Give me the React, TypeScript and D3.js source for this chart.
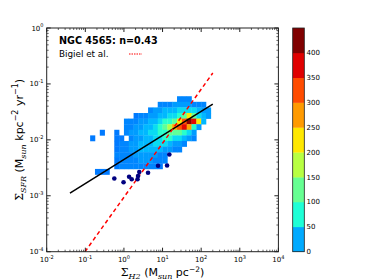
import React from "react";
import * as d3 from "d3";

const W = 374;
const H = 280;

// log10 bin edges of the 2D histogram
const binX0 = -0.875;
const binDX = 0.125;
const binY0 = -1.22;
const binDY = 0.1;

// histogram cells, one string per row from the top; "." = empty
const heatRows = [
  "..................222....",
  "..............2223333222.",
  "............2334445555433",
  ".........1223344556797543",
  ".......222334456679bdc94.",
  ".......2233445678abca63..",
  "..1..1.233445566777653...",
  "1....11.23344556655432...",
  ".....122334445554332.....",
  ".....12233444443322......",
  ".....22223333322.........",
  ".....12222333222.........",
  ".....1222222221..........",
  ".111.....................",
];
const countByCode: Record<string, number> = {
  "1": 3, "2": 10, "3": 22, "4": 38, "5": 58, "6": 82, "7": 120,
  "8": 170, "9": 220, a: 270, b: 320, c: 370, d: 420,
};

// radial points
const ptX = [0.564, 0.977, 1.36, 1.59, 2.25, 2.32, 2.5, 4.21, 7.64, 13.1, 15.0];
const ptY = [0.00204, 0.00174, 0.00219, 0.00198, 0.00198, 0.00226, 0.00266, 0.00258, 0.00345, 0.00348, 0.00547];

// fitted relation (n = 0.43) and Bigiel et al.
const fitX = [0.04, 200];
const fitY = [0.00112, 0.0437];
const bigielX = [0.098, 200];
const bigielY = [0.0001, 0.157];

// colour bar
const cbLevels = [0, 50, 100, 150, 200, 250, 300, 350, 400, 450];
const cbColors = ["#00aaff", "#1effd6", "#66ff92", "#b8ff42", "#ffe800", "#ff9a00", "#ff4c00", "#e00000", "#800000"];
const cbTicks = [0, 50, 100, 150, 200, 250, 300, 350, 400];

const heatStops = [0, 25, 50, 75, 125, 175, 225, 275, 325, 375, 425];
const heatColors = ["#0074ff", "#00a2ff", "#00ccff", "#1effd6", "#66ff92", "#b8ff42", "#ffe800", "#ff9a00", "#ff4c00", "#e00000", "#800000"];

const xDecades = [-2, -1, 0, 1, 2, 3, 4];
const yDecades = [-4, -3, -2, -1, 0];

export default function App() {
  const x = d3.scaleLog().domain([1e-2, 1e4]).range([46.7, 278.4]);
  const y = d3.scaleLog().domain([1e-4, 1]).range([251.7, 28]);
  const cb = d3.scaleLinear().domain([0, 450]).range([251.7, 28]);
  const heat = d3.scaleLinear<string>().domain(heatStops).range(heatColors).clamp(true);

  const [x0, x1] = x.range();
  const [y0, y1] = y.range();

  const cells: { c: number; r: number; v: number }[] = [];
  heatRows.forEach((row, r) =>
    row.split("").forEach((ch, c) => {
      if (ch !== ".") cells.push({ c, r, v: countByCode[ch] });
    })
  );

  const minorX: number[] = [];
  xDecades.slice(0, -1).forEach((d) => {
    for (let k = 2; k < 10; k++) minorX.push(k * Math.pow(10, d));
  });
  const minorY: number[] = [];
  yDecades.slice(0, -1).forEach((d) => {
    for (let k = 2; k < 10; k++) minorY.push(k * Math.pow(10, d));
  });

  const fitPath = d3
    .line<number>()
    .x((d) => x(d))
    .y((_, i) => y(fitY[i]))(fitX);
  const bigPath = d3
    .line<number>()
    .x((d) => x(d))
    .y((_, i) => y(bigielY[i]))(bigielX);

  const axisCol = "#222";
  const sans = "DejaVu Sans, sans-serif";
  const serif = "DejaVu Serif, serif";

  return (
    <svg width={W} height={H} style={{ position: "absolute", left: 0, top: 0, background: "#fff" }}>
      <defs>
        <clipPath id="plot">
          <rect x={x0} y={y1} width={x1 - x0} height={y0 - y1} />
        </clipPath>
      </defs>

      <g clipPath="url(#plot)">
        {cells.map((d, i) => {
          const lx0 = x(Math.pow(10, binX0 + d.c * binDX));
          const lx1 = x(Math.pow(10, binX0 + (d.c + 1) * binDX));
          const ly0 = y(Math.pow(10, binY0 - d.r * binDY));
          const ly1 = y(Math.pow(10, binY0 - (d.r + 1) * binDY));
          return (
            <rect key={i} x={lx0} y={ly0} width={lx1 - lx0 + 0.3} height={ly1 - ly0 + 0.3} fill={heat(d.v)} />
          );
        })}
        <path d={fitPath ?? ""} stroke="#000" strokeWidth={1.5} fill="none" />
        <path d={bigPath ?? ""} stroke="#ff0000" strokeWidth={1.5} strokeDasharray="4,3" fill="none" />
        {ptX.map((v, i) => (
          <circle key={i} cx={x(v)} cy={y(ptY[i])} r={2.3} fill="#000080" />
        ))}
      </g>

      {/* frame and ticks */}
      <rect x={x0} y={y1} width={x1 - x0} height={y0 - y1} fill="none" stroke={axisCol} strokeWidth={1} />
      {xDecades.map((d) => {
        const px = x(Math.pow(10, d));
        return (
          <g key={"xt" + d}>
            <line x1={px} x2={px} y1={y0} y2={y0 - 4} stroke={axisCol} />
            <line x1={px} x2={px} y1={y1} y2={y1 + 4} stroke={axisCol} />
            <text x={px} y={262} textAnchor="middle" fontFamily={sans} fontSize={7} fill="#000">
              10<tspan fontSize={5} dy={-3.5}>{d}</tspan>
            </text>
          </g>
        );
      })}
      {minorX.map((v, i) => (
        <g key={"xm" + i}>
          <line x1={x(v)} x2={x(v)} y1={y0} y2={y0 - 2} stroke={axisCol} strokeWidth={0.7} />
          <line x1={x(v)} x2={x(v)} y1={y1} y2={y1 + 2} stroke={axisCol} strokeWidth={0.7} />
        </g>
      ))}
      {yDecades.map((d) => {
        const py = y(Math.pow(10, d));
        return (
          <g key={"yt" + d}>
            <line x1={x0} x2={x0 + 4} y1={py} y2={py} stroke={axisCol} />
            <line x1={x1} x2={x1 - 4} y1={py} y2={py} stroke={axisCol} />
            <text x={43.5} y={py + 2.5} textAnchor="end" fontFamily={sans} fontSize={7} fill="#000">
              10<tspan fontSize={5} dy={-3.5}>{d}</tspan>
            </text>
          </g>
        );
      })}
      {minorY.map((v, i) => (
        <g key={"ym" + i}>
          <line x1={x0} x2={x0 + 2} y1={y(v)} y2={y(v)} stroke={axisCol} strokeWidth={0.7} />
          <line x1={x1} x2={x1 - 2} y1={y(v)} y2={y(v)} stroke={axisCol} strokeWidth={0.7} />
        </g>
      ))}

      {/* in-plot texts */}
      <text x={59} y={44} fontFamily={sans} fontWeight="bold" fontSize={9.6} fill="#000">
        NGC 4565: n=0.43
      </text>
      <text x={59} y={57} fontFamily={sans} fontSize={8.8} fill="#000">
        Bigiel et al.
      </text>
      <line x1={129} x2={142} y1={54} y2={54} stroke="#ff0000" strokeWidth={1} strokeDasharray="1.5,1" />

      {/* axis labels */}
      <text x={(x0 + x1) / 2} y={276} textAnchor="middle" fontFamily={sans} fontSize={11} fill="#000">
        <tspan fontFamily={serif}>Σ</tspan>
        <tspan fontFamily={serif} fontStyle="italic" fontSize={8} dy={2.5}>H2</tspan>
        <tspan dy={-2.5}> (M</tspan>
        <tspan fontFamily={serif} fontStyle="italic" fontSize={8} dy={2.5}>sun</tspan>
        <tspan dy={-2.5}> pc</tspan>
        <tspan fontSize={7.5} dy={-4}>−2</tspan>
        <tspan dy={4}>)</tspan>
      </text>
      <text transform={`translate(23,${(y0 + y1) / 2}) rotate(-90)`} textAnchor="middle" fontFamily={sans} fontSize={11} fill="#000">
        <tspan fontFamily={serif}>Σ</tspan>
        <tspan fontFamily={serif} fontStyle="italic" fontSize={8} dy={3}>SFR</tspan>
        <tspan dy={-3}> (M</tspan>
        <tspan fontFamily={serif} fontStyle="italic" fontSize={8} dy={3}>sun</tspan>
        <tspan dy={-3}> kpc</tspan>
        <tspan fontSize={8} dy={-5}>−2</tspan>
        <tspan dy={5}> yr</tspan>
        <tspan fontSize={8} dy={-5}>−1</tspan>
        <tspan dy={5}>)</tspan>
      </text>

      {/* colour bar */}
      {cbColors.map((col, i) => (
        <rect key={"cb" + i} x={292.7} y={cb(cbLevels[i + 1])} width={11.6} height={cb(cbLevels[i]) - cb(cbLevels[i + 1]) + 0.3} fill={col} />
      ))}
      <rect x={292.7} y={28} width={11.6} height={223.7} fill="none" stroke={axisCol} strokeWidth={0.8} />
      {cbTicks.map((t) => (
        <text key={"cbt" + t} x={306.5} y={cb(t) + 2.5} fontFamily={sans} fontSize={7} fill="#000">
          {t}
        </text>
      ))}
    </svg>
  );
}
